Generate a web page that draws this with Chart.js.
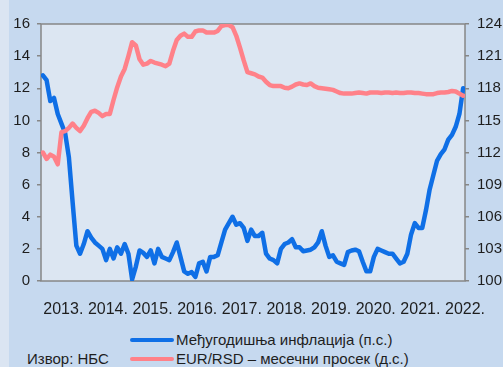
<!DOCTYPE html>
<html lang="sr">
<head>
<meta charset="utf-8">
<script src="https://cdn.jsdelivr.net/npm/chart.js@4/dist/chart.umd.min.js"></script>
<style>
  html, body { margin: 0; padding: 0; }
  body {
    width: 503px; height: 367px; overflow: hidden; position: relative;
    background: linear-gradient(to right, #dbe5f2 0, #dbe5f2 9px, #c6d9ef 9px);
    font-family: "Liberation Sans", Arial, sans-serif; color: #1e1e1e;
  }
  #wrap { position: absolute; left: 0; top: 0; width: 503px; height: 320px; }
  .leg { position: absolute; font-size: 15px; line-height: 18px; white-space: nowrap; }
  .leg i { display: inline-block; width: 44px; height: 4px; border-radius: 2px; vertical-align: middle; margin: 0 2px 2px 0; }
</style>
</head>
<body>
<div id="wrap"><canvas id="chart" width="503" height="320"></canvas></div>
<div class="leg" id="leg0" style="left:130px; top:331px;"></div>
<div class="leg" style="left:27px; top:350px;">Извор: НБС</div>
<div class="leg" id="leg1" style="left:130px; top:350px;"></div>
<script>
// годишње ознаке на x оси
const yearLabels = ["2013.", "2014.", "2015.", "2016.", "2017.", "2018.", "2019.", "2020.", "2021.", "2022."];

// међугодишња инфлација, %, месечно јан 2013 – јун 2022
const inflation = [
  12.8, 12.5, 11.2, 11.4, 10.4, 9.8, 9.2, 7.7, 4.9, 2.2, 1.7, 2.3,
  3.1, 2.7, 2.4, 2.2, 2.0, 1.3, 2.0, 1.4, 2.1, 1.7, 2.3, 1.7,
  0.1, 0.9, 1.9, 1.75, 1.5, 1.9, 1.1, 2.0, 1.5, 1.4, 1.3, 1.8,
  2.4, 1.5, 0.6, 0.45, 0.55, 0.25, 1.1, 1.2, 0.6, 1.5, 1.5, 1.6,
  2.4, 3.2, 3.6, 4.0, 3.5, 3.6, 3.3, 2.5, 3.2, 2.8, 2.8, 3.0,
  1.7, 1.4, 1.3, 1.1, 2.0, 2.3, 2.4, 2.6, 2.1, 2.1, 1.85, 1.9,
  1.95, 2.1, 2.4, 3.1, 2.2, 1.5, 1.6, 1.2, 1.1, 1.0, 1.8, 1.9,
  1.95, 1.85, 1.2, 0.6, 0.6, 1.5, 2.0, 1.9, 1.8, 1.7, 1.7, 1.4,
  1.1, 1.2, 1.7, 2.9, 3.6, 3.3, 3.3, 4.4, 5.7, 6.6, 7.5, 7.9,
  8.2, 8.8, 9.1, 9.6, 10.4, 12.0
];

// EUR/RSD, месечни просек
const eurRsd = [
  112.0, 111.4, 111.8, 111.6, 110.9, 113.9, 114.0, 114.3, 114.7, 114.3, 114.0, 114.5,
  115.2, 115.8, 115.9, 115.7, 115.4, 115.6, 115.6, 116.9, 118.1, 119.1, 119.8, 121.0,
  122.3, 122.0, 120.7, 120.2, 120.3, 120.55, 120.4, 120.3, 120.2, 120.05, 120.3, 121.5,
  122.5, 122.9, 123.1, 122.8, 122.8, 123.3, 123.4, 123.4, 123.2, 123.2, 123.2, 123.35,
  123.8, 123.9, 123.9, 123.7, 122.9, 121.8, 120.6, 119.5, 119.4, 119.3, 119.1, 119.0,
  118.6, 118.3, 118.2, 118.2, 118.2, 118.05, 118.0, 118.15, 118.35, 118.45, 118.35, 118.3,
  118.45, 118.2, 118.05, 118.0, 117.95, 117.9, 117.85, 117.7, 117.55, 117.5, 117.5, 117.5,
  117.55, 117.6, 117.55, 117.5, 117.6, 117.6, 117.6, 117.55, 117.6, 117.6, 117.55, 117.6,
  117.55, 117.55, 117.6, 117.6, 117.55, 117.55, 117.5, 117.45, 117.45, 117.45, 117.55, 117.6,
  117.6, 117.65, 117.75, 117.7, 117.5, 117.3
];

const BLUE = "#0f6fe6";
const PINK = "#ff8189";
const AXIS = "#878787";
const months = inflation.length;

// тачка сваког месеца стоји у средини свог поља
const toPoints = arr => arr.map((v, i) => ({ x: i + 0.5, y: v }));

// подлога и оквир поља графикона
const plotFrame = {
  id: "plotFrame",
  beforeDraw(chart) {
    const { ctx, chartArea: a } = chart;
    ctx.save();
    ctx.fillStyle = "#dce6f2";
    ctx.fillRect(a.left, a.top, a.width, a.height);
    ctx.restore();
  },
  beforeDatasetsDraw(chart) {
    const { ctx, chartArea: a } = chart;
    ctx.save();
    ctx.strokeStyle = AXIS;
    ctx.lineWidth = 1.5;
    ctx.strokeRect(a.left, a.top, a.width, a.height);
    ctx.restore();
  },
};

const tickFont = { family: "'Liberation Sans', Arial, sans-serif", size: 15 };
const sideGrid = { display: true, drawOnChartArea: false, drawTicks: true, tickLength: 4, color: AXIS, lineWidth: 1.5 };

const chart = new Chart(document.getElementById("chart"), {
  type: "line",
  data: {
    datasets: [
      {
        label: "Међугодишња инфлација (п.с.)",
        data: toPoints(inflation),
        yAxisID: "y",
        borderColor: BLUE,
        borderWidth: 4.5,
        order: 1,
      },
      {
        label: "EUR/RSD – месечни просек (д.с.)",
        data: toPoints(eurRsd),
        yAxisID: "y1",
        borderColor: PINK,
        borderWidth: 4.5,
        order: 0,
      },
    ],
  },
  options: {
    responsive: false,
    animation: false,
    layout: { padding: { top: 24, left: 0, right: 0, bottom: 0 } },
    elements: {
      point: { radius: 0 },
      line: { tension: 0, borderJoinStyle: "round", borderCapStyle: "round" },
    },
    plugins: { legend: { display: false }, tooltip: { enabled: false } },
    scales: {
      x: {
        type: "linear",
        min: 0,
        max: months,
        grid: { display: false },
        border: { display: false },
        afterBuildTicks: s => { s.ticks = yearLabels.map((_, k) => ({ value: k * 12 + 6 })); },
        afterFit: s => { s.height = 39; },
        ticks: {
          color: "#1e1e1e",
          font: { ...tickFont, size: 16 },
          padding: 11,
          maxRotation: 0,
          autoSkip: false,
          callback: v => yearLabels[Math.round((v - 6) / 12)],
        },
      },
      y: {
        position: "left",
        min: 0,
        max: 16,
        grid: sideGrid,
        border: { display: false },
        afterFit: s => { s.width = 41; },
        ticks: { stepSize: 2, color: "#1e1e1e", font: tickFont, padding: 7 },
      },
      y1: {
        position: "right",
        min: 100,
        max: 124,
        grid: sideGrid,
        border: { display: false },
        afterFit: s => { s.width = 38; },
        ticks: { stepSize: 3, color: "#1e1e1e", font: tickFont, padding: 8 },
      },
    },
  },
  plugins: [plotFrame],
});

// легенда испод графикона, по један ред за сваку серију
chart.data.datasets.forEach((ds, k) => {
  const el = document.getElementById("leg" + k);
  const mark = document.createElement("i");
  mark.style.background = ds.borderColor;
  el.appendChild(mark);
  el.appendChild(document.createTextNode(ds.label));
});
</script>
</body>
</html>
